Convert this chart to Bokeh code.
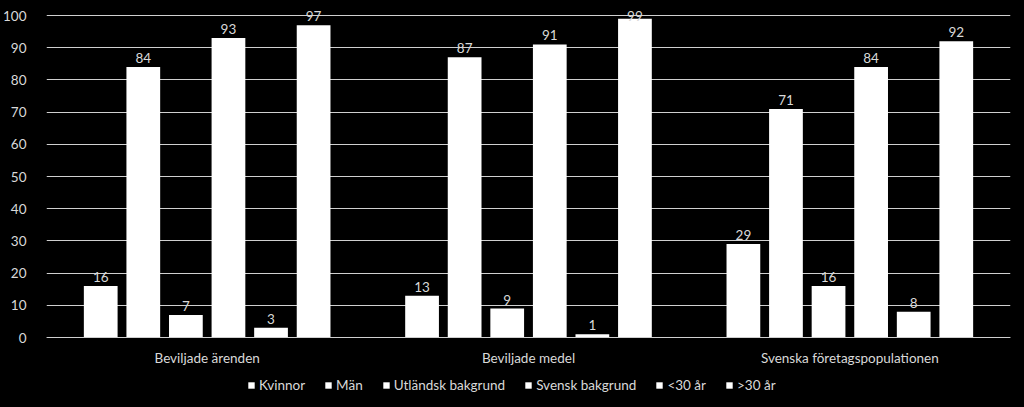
from bokeh.plotting import figure
from bokeh.models import FactorRange, ColumnDataSource, Legend, LegendItem, FixedTicker
from bokeh.transform import dodge
from bokeh.core.properties import value
from bokeh.embed import file_html
from bokeh.resources import INLINE

groups = ["Beviljade ärenden", "Beviljade medel", "Svenska företagspopulationen"]
series = ["Kvinnor", "Män", "Utländsk bakgrund", "Svensk bakgrund", "<30 år", ">30 år"]
kvinnor = [16, 13, 29]
man = [84, 87, 71]
utlandsk = [7, 9, 16]
svensk = [93, 91, 84]
under30 = [3, 1, 8]
over30 = [97, 99, 92]
values = [kvinnor, man, utlandsk, svensk, under30, over30]
yticks = [0, 10, 20, 30, 40, 50, 60, 70, 80, 90, 100]

FONT = "Lato"
TXT = "#d9d9d9"
GRID = "#cfcfcf"
FS = "13.5px"

PX = 3.22  # pixels per unit on the y scale
p = figure(x_range=FactorRange(*groups, range_padding=0),
           y_range=(-70 / PX, 100 + 15 / PX),
           width=1024, height=407, output_backend="svg", toolbar_location=None,
           background_fill_color="black", border_fill_color="black",
           min_border_left=46, min_border_right=14, min_border_top=0, min_border_bottom=0)
p.outline_line_color = None

pitch = 0.1325
bw = 0.105
items = []
for i, (name, vals) in enumerate(zip(series, values)):
    # label baseline ~9px above the bar, squeezed onto the 100 line near the top
    ly = [min(v + 9 / PX, 100) for v in vals]
    src = ColumnDataSource(dict(g=groups, v=vals, ly=ly, t=[str(x) for x in vals]))
    off = (i - 2.5) * pitch
    r = p.vbar(x=dodge("g", off, range=p.x_range), top="v", bottom=0, width=bw, source=src,
               fill_color="white", line_color=None)
    p.text(x=dodge("g", off, range=p.x_range), y="ly", text="t", source=src,
           text_align="center", text_baseline="alphabetic",
           text_color=TXT, text_font=value(FONT), text_font_size=FS)
    items.append(LegendItem(label=name, renderers=[r]))

legend = Legend(items=items, orientation="horizontal", location=(201, 14),
                background_fill_alpha=0, border_line_color=None, padding=0, margin=0,
                glyph_width=8, glyph_height=8, label_standoff=4, spacing=19,
                label_text_color=TXT, label_text_font=FONT, label_text_font_size=FS)
p.add_layout(legend)

p.ygrid.grid_line_color = GRID
p.ygrid.grid_line_width = 1.2
p.xgrid.grid_line_color = None
p.yaxis.ticker = FixedTicker(ticks=yticks)
p.yaxis.axis_line_color = None
p.yaxis.major_tick_line_color = None
p.yaxis.minor_tick_line_color = None
p.yaxis.major_label_standoff = 14
p.yaxis.major_label_text_color = TXT
p.yaxis.major_label_text_font = FONT
p.yaxis.major_label_text_font_size = FS

p.xaxis.fixed_location = 0
p.xaxis.axis_line_color = GRID
p.xaxis.axis_line_width = 1.2
p.xaxis.major_tick_line_color = None
p.xaxis.minor_tick_line_color = None
p.xaxis.major_label_standoff = 6
p.xaxis.major_label_text_color = TXT
p.xaxis.major_label_text_font = FONT
p.xaxis.major_label_text_font_size = FS

html = file_html(p, INLINE)
html = html.replace("</head>", "<style>html, body { background-color: #000000; }</style></head>", 1)
open("out.html", "w").write(html)
